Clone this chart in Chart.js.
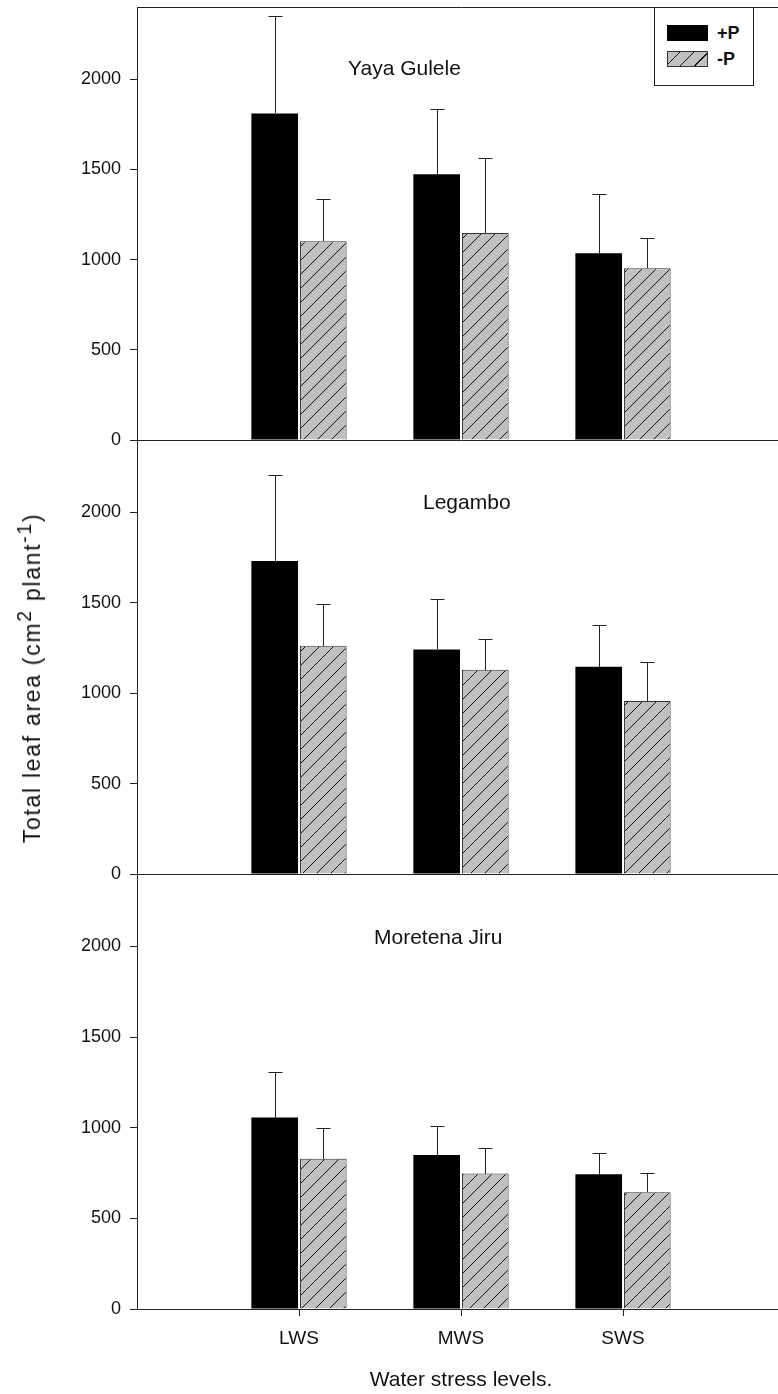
<!DOCTYPE html>
<html>
<head>
<meta charset="utf-8">
<title>Total leaf area</title>
<script src="https://cdn.jsdelivr.net/npm/chart.js@4.4.1/dist/chart.umd.min.js"></script>
<style>
    html, body { margin: 0; padding: 0; background: #fff; overflow: hidden; }
    body { width: 778px; height: 1394px; position: relative; font-family: "Liberation Sans", Arial, sans-serif; color: #111; }
    canvas { position: absolute; left: 0; }
    .panel-title { position: absolute; font-size: 21px; line-height: 21px; white-space: nowrap; }
    #ytitle { position: absolute; left: 32px; top: 678px; font-size: 23px; line-height: 26px; letter-spacing: 1.7px; white-space: nowrap;
        transform: translate(-50%, -50%) rotate(-90deg); }
    #ytitle sup { font-size: 0.85em; line-height: 0; vertical-align: 0.45em; }
    #legend { position: absolute; left: 654px; top: 7px; width: 98px; height: 77px; border: 1px solid #222; background: #fff; }
    #legend .sw { position: absolute; left: 12px; width: 41px; height: 16px; box-sizing: border-box; }
    #legend .txt { position: absolute; left: 62px; font-size: 18px; line-height: 18px; font-weight: bold; }
</style>
</head>
<body>

<canvas id="c1" width="790" height="473" style="top:-13px"></canvas>
<canvas id="c2" width="790" height="474" style="top:420px"></canvas>
<canvas id="c3" width="790" height="540" style="top:854px"></canvas>

<div class="panel-title" style="left:348px; top:57px">Yaya Gulele</div>
<div class="panel-title" style="left:423px; top:491px">Legambo</div>
<div class="panel-title" style="left:374px; top:926px">Moretena Jiru</div>

<div id="ytitle">Total leaf area (cm<sup>2</sup> plant<sup>-1</sup>)</div>

<div id="legend">
    <div class="sw" style="top:17px; background:#000"></div>
    <div class="txt" style="top:16px">+P</div>
    <div class="sw" style="top:43px; border:1px solid #333;
        background: repeating-linear-gradient(135deg, #c0c0c0 0px, #c0c0c0 8px, #111 8px, #111 9px, #c0c0c0 9px, #c0c0c0 10px)"></div>
    <div class="txt" style="top:42px">-P</div>
</div>

<script>
// Water stress levels on the x axis
var categories = ['LWS', 'MWS', 'SWS'];
var yTicks = [0, 500, 1000, 1500, 2000];
var yMax = 2400;

// Yaya Gulele
var yayaPlus = [1810, 1473, 1035];
var yayaPlusErr = [540, 364, 330];
var yayaMinus = [1102, 1148, 952];
var yayaMinusErr = [233, 415, 168];

// Legambo
var legamboPlus = [1731, 1242, 1146];
var legamboPlusErr = [475, 277, 229];
var legamboMinus = [1262, 1129, 957];
var legamboMinusErr = [233, 170, 214];

// Moretena Jiru
var moretenaPlus = [1056, 849, 744];
var moretenaPlusErr = [252, 163, 114];
var moretenaMinus = [829, 747, 644];
var moretenaMinusErr = [169, 143, 105];

var AXIS = '#222';
var FONT = '"Liberation Sans", Arial, sans-serif';

// empty slot on both sides so the categories sit where the original puts them
var paddedLabels = [''].concat(categories, ['']);
function pad(arr) { return [null].concat(arr, [null]); }

// diagonal hatch used for the -P bars
function makeHatch() {
    var size = 14;
    var c = document.createElement('canvas');
    c.width = size; c.height = size;
    var g = c.getContext('2d');
    g.fillStyle = '#c0c0c0';
    g.fillRect(0, 0, size, size);
    g.strokeStyle = '#111';
    g.lineWidth = 1;
    g.beginPath();
    g.moveTo(-1, size + 1); g.lineTo(size + 1, -1);
    g.moveTo(-1, 1); g.lineTo(1, -1);
    g.moveTo(size - 1, size + 1); g.lineTo(size + 1, size - 1);
    g.stroke();
    return g.createPattern(c, 'repeat');
}
var hatch = makeHatch();

// upper error bars drawn from the bar tops through the y scale
var errorBars = {
    id: 'errorBars',
    afterDatasetsDraw: function (chart) {
        var ctx = chart.ctx;
        var yScale = chart.scales.y;
        ctx.save();
        ctx.strokeStyle = AXIS;
        ctx.lineWidth = 1;
        chart.data.datasets.forEach(function (ds, di) {
            var meta = chart.getDatasetMeta(di);
            meta.data.forEach(function (bar, i) {
                var v = ds.data[i];
                if (v === null) return;
                var top = yScale.getPixelForValue(v + ds.errors[i - 1]);
                var x = Math.round(bar.x) + 0.5;
                var yt = Math.round(top) + 0.5;
                ctx.beginPath();
                ctx.moveTo(x, Math.round(bar.y));
                ctx.lineTo(x, yt);
                ctx.moveTo(x - 7, yt);
                ctx.lineTo(x + 7, yt);
                ctx.stroke();
            });
        });
        ctx.restore();
    }
};

function makePanel(id, plus, plusErr, minus, minusErr, isBottom) {
    var xScale = {
        type: 'category',
        offset: false,
        grid: { offset: false, drawOnChartArea: false, drawTicks: isBottom, tickLength: 7,
            tickColor: function (c) { return (c.index >= 1 && c.index <= 3) ? AXIS : 'rgba(0,0,0,0)'; } },
        border: { display: true, color: AXIS, width: 1 },
        ticks: { display: isBottom, autoSkip: false, maxRotation: 0, padding: 11, color: '#111',
            font: { family: FONT, size: 19 } },
        title: { display: isBottom, text: 'Water stress levels.', color: '#111', padding: { top: 0, bottom: 1 },
            font: { family: FONT, size: 21 } },
        afterFit: function (s) {
            s.height = isBottom ? 85 : 0;
            s.paddingLeft = 0;
            s.paddingRight = 0;
        }
    };
    var scales = {
        x: xScale,
        y: {
            min: 0, max: yMax,
            grid: { drawOnChartArea: false, drawTicks: true, tickLength: 7, tickColor: AXIS },
            border: { display: true, color: AXIS, width: 1 },
            ticks: { padding: 9, color: '#111', font: { family: FONT, size: 18 },
                callback: function (v) { return String(v); } },
            afterBuildTicks: function (s) {
                s.ticks = yTicks.map(function (v) { return { value: v }; });
            },
            afterFit: function (s) { s.width = 137; }
        }
    };
    if (id === 'c1') {
        // top frame line of the first panel
        scales.xTop = {
            type: 'category', position: 'top', offset: false,
            grid: { offset: false, drawOnChartArea: false, drawTicks: false },
            border: { display: true, color: AXIS, width: 1 },
            ticks: { display: false },
            afterFit: function (s) { s.height = 0; s.paddingLeft = 0; s.paddingRight = 0; }
        };
    }
    return new Chart(document.getElementById(id), {
        type: 'bar',
        data: {
            labels: paddedLabels,
            datasets: [
                { label: '+P', data: pad(plus), errors: plusErr, backgroundColor: '#000', borderWidth: 0 },
                { label: '-P', data: pad(minus), errors: minusErr, backgroundColor: hatch,
                  borderColor: '#333', borderWidth: 1, borderSkipped: 'bottom' }
            ]
        },
        options: {
            responsive: false,
            animation: false,
            categoryPercentage: 0.6,
            barPercentage: 0.96,
            layout: { padding: { top: 20, bottom: isBottom ? 0 : 20, left: 0, right: 5 } },
            plugins: { legend: { display: false }, tooltip: { enabled: false } },
            scales: scales
        },
        plugins: [errorBars]
    });
}

makePanel('c1', yayaPlus, yayaPlusErr, yayaMinus, yayaMinusErr, false);
makePanel('c2', legamboPlus, legamboPlusErr, legamboMinus, legamboMinusErr, false);
makePanel('c3', moretenaPlus, moretenaPlusErr, moretenaMinus, moretenaMinusErr, true);
</script>
</body>
</html>
